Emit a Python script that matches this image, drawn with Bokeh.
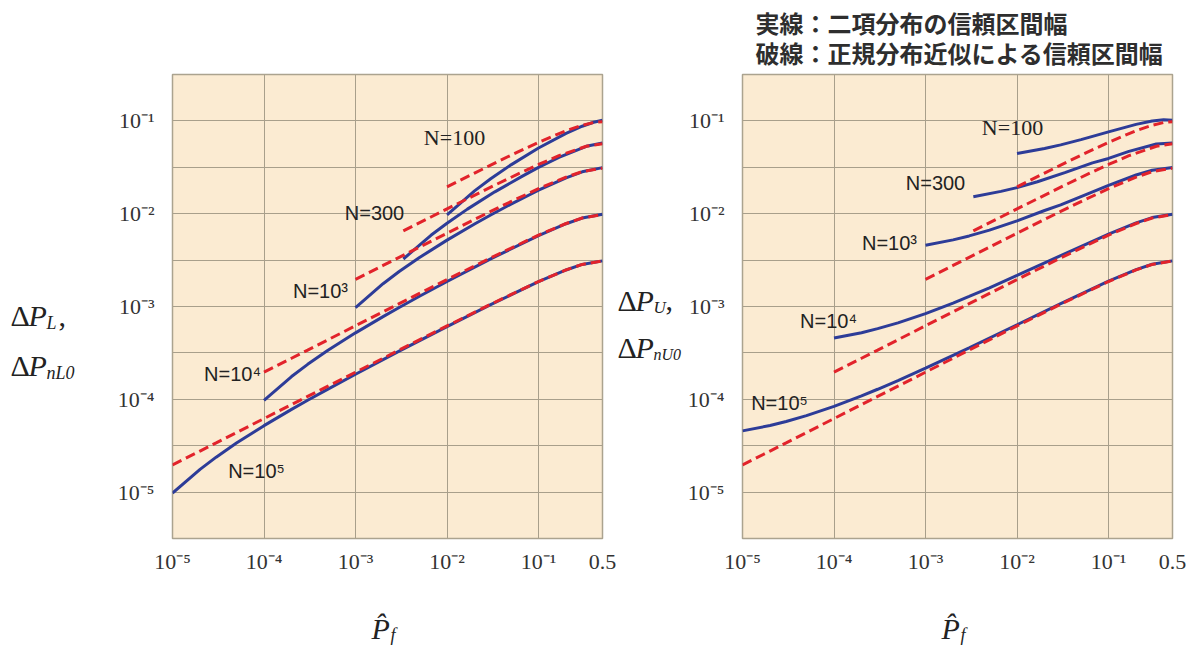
import math

from bokeh.plotting import figure
from bokeh.layouts import row, column
from bokeh.models import Range1d, FixedTicker, CustomJSTickFormatter, Label
from bokeh.embed import file_html
from bokeh.resources import INLINE

# ---------------------------------------------------------------------------
# Confidence-interval half widths versus the estimated failure probability Pf
# exact_lo / exact_up : binomial (exact) interval, lower and upper side
# normal             : normal-approximation interval (same on both sides)
# ---------------------------------------------------------------------------
pf_100 = [0.01, 0.02, 0.03, 0.05, 0.1, 0.2, 0.3, 0.4, 0.5]
normal_100 = [0.0195, 0.0274, 0.0334, 0.0427, 0.0588, 0.0784, 0.0898, 0.0960, 0.0980]
exact_lo_100 = [0.0097, 0.0176, 0.0238, 0.0336, 0.0510, 0.0733, 0.0876, 0.0967, 0.1017]
exact_up_100 = [0.0445, 0.0504, 0.0552, 0.0628, 0.0762, 0.0918, 0.0998, 0.1028, 0.1017]

pf_300 = [0.00333, 0.00667, 0.01, 0.0167, 0.0333, 0.0667, 0.1, 0.167, 0.333, 0.5]
normal_300 = [0.00652, 0.00921, 0.01126, 0.01449, 0.02031, 0.02823, 0.0339, 0.0422, 0.0533, 0.0566]
exact_lo_300 = [0.00325, 0.00585, 0.0079, 0.0112, 0.0172, 0.0254, 0.0316, 0.0405, 0.0532, 0.0579]
exact_up_300 = [0.0152, 0.0174, 0.0191, 0.0221, 0.0277, 0.0353, 0.0394, 0.0470, 0.0564, 0.0579]

pf_1000 = [0.001, 0.002, 0.003, 0.005, 0.01, 0.02, 0.03, 0.05, 0.1, 0.2, 0.3, 0.5]
normal_1000 = [0.00196, 0.00277, 0.00339, 0.00437, 0.00617, 0.00868, 0.01057, 0.01351,
               0.01859, 0.02479, 0.02840, 0.03099]
exact_lo_1000 = [0.000975, 0.00176, 0.00238, 0.00337, 0.00519, 0.00775, 0.00969, 0.01268,
                 0.0179, 0.02437, 0.02826, 0.03139]
exact_up_1000 = [0.00457, 0.00522, 0.00576, 0.00666, 0.00836, 0.01083, 0.01243, 0.0153,
                 0.02023, 0.02612, 0.02942, 0.03139]

pf_1e4 = [1e-4, 2e-4, 3e-4, 5e-4, 1e-3, 2e-3, 3e-3, 5e-3, 1e-2, 3e-2, 0.1, 0.2, 0.3, 0.5]
normal_1e4 = [1.96e-4, 2.77e-4, 3.39e-4, 4.38e-4, 6.20e-4, 8.76e-4, 1.072e-3, 1.382e-3,
              1.950e-3, 3.34e-3, 5.88e-3, 7.84e-3, 8.98e-3, 9.80e-3]
exact_lo_1e4 = [9.75e-5, 1.758e-4, 2.38e-4, 3.38e-4, 5.2e-4, 7.78e-4, 9.76e-4, 1.289e-3,
                1.86e-3, 3.26e-3, 5.81e-3, 7.80e-3, 8.97e-3, 9.84e-3]
exact_up_1e4 = [4.57e-4, 5.22e-4, 5.77e-4, 6.67e-4, 8.39e-4, 1.089e-3, 1.283e-3, 1.592e-3,
                2.16e-3, 3.53e-3, 6.04e-3, 7.97e-3, 9.08e-3, 9.84e-3]

pf_1e5 = [1e-5, 2e-5, 3e-5, 5e-5, 1e-4, 2e-4, 3e-4, 5e-4, 1e-3, 3e-3, 1e-2, 3e-2,
          0.1, 0.2, 0.3, 0.5]
normal_1e5 = [1.96e-5, 2.77e-5, 3.39e-5, 4.38e-5, 6.20e-5, 8.77e-5, 1.074e-4, 1.386e-4,
              1.959e-4, 3.39e-4, 6.17e-4, 1.057e-3, 1.859e-3, 2.479e-3, 2.840e-3, 3.099e-3]
exact_lo_1e5 = [9.75e-6, 1.758e-5, 2.38e-5, 3.38e-5, 5.2e-5, 7.78e-5, 9.76e-5, 1.289e-4,
                1.864e-4, 3.30e-4, 6.07e-4, 1.049e-3, 1.852e-3, 2.475e-3, 2.839e-3, 3.103e-3]
exact_up_1e5 = [4.57e-5, 5.22e-5, 5.77e-5, 6.67e-5, 8.39e-5, 1.089e-4, 1.283e-4, 1.592e-4,
                2.163e-4, 3.59e-4, 6.36e-4, 1.076e-3, 1.876e-3, 2.492e-3, 2.850e-3, 3.103e-3]

sample_labels = ["N=100", "N=300", "N=10³", "N=10⁴", "N=10⁵"]

x_ticks = [1e-5, 1e-4, 1e-3, 1e-2, 1e-1, 0.5]
x_tick_labels = ["10⁻⁵", "10⁻⁴", "10⁻³", "10⁻²", "10⁻¹", "0.5"]
y_ticks = [1e-5, 1e-4, 1e-3, 1e-2, 1e-1]
y_tick_labels = ["10⁻⁵", "10⁻⁴", "10⁻³", "10⁻²", "10⁻¹"]
y_half_decades = [10 ** (-k - 0.5) for k in range(1, 5)]

legend_lines = ["実線：二項分布の信頼区間幅", "破線：正規分布近似による信頼区間幅"]

# ---------------------------------------------------------------------------
# Page layout (pixels from the top-left corner of the page)
# ---------------------------------------------------------------------------
PAGE_W, PAGE_H = 1186, 646
FRAME_TOP, FRAME_BOTTOM = 74, 538
FRAME_W = 430
LEFT_FRAME_X, RIGHT_FRAME_X = 172, 742

TITLE_L_W = 98            # strip holding the left y title
PANEL_L_W = 518           # left chart
TITLE_M_W = 67            # strip holding the right y title
PANEL_L_X = TITLE_L_W
TITLE_M_X = PANEL_L_X + PANEL_L_W
PANEL_R_X = TITLE_M_X + TITLE_M_W
PANEL_R_W = PAGE_W - PANEL_R_X
TOP_H = 72
BOTTOM_H = 61
PANEL_H = PAGE_H - TOP_H - BOTTOM_H
BOTTOM_Y = TOP_H + PANEL_H

X_LO, X_HI = 1e-5, 0.5
Y_LO, Y_HI = 10 ** -5.5, 10 ** -0.5
XDEC = FRAME_W / (math.log10(X_HI) - math.log10(X_LO))
YDEC = (FRAME_BOTTOM - FRAME_TOP) / (math.log10(Y_HI) - math.log10(Y_LO))

BLUE = "#2d3c98"
RED = "#e2232b"
PLOT_BG = "#fbebd2"
GRID = "#a89f8b"
TEXT = "#222222"
SERIF = "Liberation Serif"
SANS = "Liberation Sans"


def px_x(px, frame_x):
    return 10 ** (math.log10(X_LO) + (px - frame_x) / XDEC)


def px_y(py):
    return 10 ** (math.log10(Y_HI) - (py - FRAME_TOP) / YDEC)


def tick_formatter(tick_vals, tick_text):
    return CustomJSTickFormatter(
        args=dict(tick_vals=tick_vals, tick_text=tick_text),
        code="""
        let best = 0, bd = Infinity;
        for (let i = 0; i < tick_vals.length; i++) {
            const d = Math.abs(Math.log(tick_vals[i]) - Math.log(tick));
            if (d < bd) { bd = d; best = i; }
        }
        return tick_text[best];
        """,
    )


def make_panel(x0, width, frame_x):
    border_left = frame_x - x0
    border_right = width - border_left - FRAME_W
    border_top = FRAME_TOP - TOP_H
    border_bottom = PANEL_H - border_top - (FRAME_BOTTOM - FRAME_TOP)
    p = figure(
        width=width, height=PANEL_H, title=None,
        x_axis_type="log", y_axis_type="log",
        x_range=Range1d(X_LO, X_HI), y_range=Range1d(Y_LO, Y_HI),
        output_backend="svg", toolbar_location=None,
        min_border_left=border_left, min_border_right=border_right,
        min_border_top=border_top, min_border_bottom=border_bottom,
    )
    p.background_fill_color = PLOT_BG
    p.border_fill_color = "white"
    p.outline_line_color = "#aba38f"
    p.outline_line_width = 1.5

    p.xaxis.ticker = FixedTicker(ticks=x_ticks)
    p.yaxis.ticker = FixedTicker(ticks=y_ticks, minor_ticks=y_half_decades)
    p.xaxis.formatter = tick_formatter(x_ticks, x_tick_labels)
    p.yaxis.formatter = tick_formatter(y_ticks, y_tick_labels)
    for ax in (p.xaxis, p.yaxis):
        ax.axis_line_color = None
        ax.major_tick_line_color = None
        ax.minor_tick_line_color = None
        ax.major_tick_out = 0
        ax.minor_tick_out = 0
        ax.major_label_text_font = SERIF
        ax.major_label_text_font_size = "22px"
        ax.major_label_text_color = "#333333"
    p.xaxis.major_label_standoff = 10
    p.yaxis.major_label_standoff = 18

    p.xgrid.grid_line_color = GRID
    p.xgrid.grid_line_width = 1
    p.ygrid.grid_line_color = GRID
    p.ygrid.grid_line_width = 1
    p.ygrid.minor_grid_line_color = GRID
    p.ygrid.minor_grid_line_width = 1
    return p


def make_strip(x0, width, y0, height, frame_left=None, frame_right=None):
    """White canvas whose data units are page pixels.

    When the strip sits in a column with a chart, its drawing area is given the
    same horizontal extent as that chart's frame so the two line up exactly."""
    fl = x0 if frame_left is None else frame_left
    fr = x0 + width if frame_right is None else frame_right
    s = figure(
        width=width, height=height, title=None,
        x_range=Range1d(fl, fr), y_range=Range1d(y0 + height, y0),
        x_axis_location=None, y_axis_location=None,
        output_backend="svg", toolbar_location=None,
        min_border_left=fl - x0, min_border_right=x0 + width - fr,
        min_border_top=0, min_border_bottom=0,
    )
    s.grid.visible = False
    s.outline_line_color = None
    s.background_fill_color = "white"
    s.border_fill_color = "white"
    return s


def label(target, x, y, text, font=SANS, size=20, style="normal",
          align="center", baseline="middle", color=TEXT):
    target.add_layout(Label(
        x=x, y=y, text=text,
        text_font=font, text_font_size=f"{size}px", text_font_style=style,
        text_align=align, text_baseline=baseline, text_color=color,
    ))


series = [
    (pf_100, normal_100, exact_lo_100, exact_up_100),
    (pf_300, normal_300, exact_lo_300, exact_up_300),
    (pf_1000, normal_1000, exact_lo_1000, exact_up_1000),
    (pf_1e4, normal_1e4, exact_lo_1e4, exact_up_1e4),
    (pf_1e5, normal_1e5, exact_lo_1e5, exact_up_1e5),
]

left = make_panel(PANEL_L_X, PANEL_L_W, LEFT_FRAME_X)
right = make_panel(PANEL_R_X, PANEL_R_W, RIGHT_FRAME_X)

# solid exact-interval curves first, dashed normal approximation on top
for pf, normal, lo, up in series:
    left.line(pf, lo, line_color=BLUE, line_width=3)
    right.line(pf, up, line_color=BLUE, line_width=3)
for pf, normal, lo, up in series:
    left.line(pf, normal, line_color=RED, line_width=3, line_dash="10 5")
    right.line(pf, normal, line_color=RED, line_width=3, line_dash="10 5")

# sample-size annotations (page pixel positions converted to data units)
left_pos = [(454, 137), (374, 212), (320, 290), (232, 373), (256, 470)]
right_pos = [(1012, 127), (935, 182), (889, 242), (828, 320), (779, 402)]
for i, lab in enumerate(sample_labels):
    font, size = (SERIF, 22) if i == 0 else (SANS, 20)
    lx, ly = left_pos[i]
    rx, ry = right_pos[i]
    label(left, px_x(lx, LEFT_FRAME_X), px_y(ly), lab, font=font, size=size)
    label(right, px_x(rx, RIGHT_FRAME_X), px_y(ry), lab, font=font, size=size)

# ---------------------------------------------------------------------------
# Surrounding strips: titles and the line-style key (coordinates = page pixels)
# ---------------------------------------------------------------------------
title_l = make_strip(0, TITLE_L_W, 0, PAGE_H)
title_m = make_strip(TITLE_M_X, TITLE_M_W, 0, PAGE_H)
top_l = make_strip(PANEL_L_X, PANEL_L_W, 0, TOP_H, LEFT_FRAME_X, LEFT_FRAME_X + FRAME_W)
top_r = make_strip(PANEL_R_X, PANEL_R_W, 0, TOP_H, RIGHT_FRAME_X, RIGHT_FRAME_X + FRAME_W)
bottom_l = make_strip(PANEL_L_X, PANEL_L_W, BOTTOM_Y, BOTTOM_H, LEFT_FRAME_X, LEFT_FRAME_X + FRAME_W)
bottom_r = make_strip(PANEL_R_X, PANEL_R_W, BOTTOM_Y, BOTTOM_H, RIGHT_FRAME_X, RIGHT_FRAME_X + FRAME_W)

for i, line in enumerate(legend_lines):
    label(top_r, 755, 22 + 30 * i, line, font="Noto Sans CJK JP",
          size=24, style="bold", align="left", color="#2e2e2e")


def delta_title(strip, x0, sub, tail, base_y, sub_size=18):
    label(strip, x0, base_y, "Δ", font=SERIF, size=30, align="left", baseline="alphabetic")
    label(strip, x0 + 18, base_y, "P", font=SERIF, size=30, style="italic",
          align="left", baseline="alphabetic")
    label(strip, x0 + 36, base_y + 7, sub, font=SERIF, size=sub_size, style="italic",
          align="left", baseline="alphabetic")
    if tail:
        label(strip, x0 + 37 + 11 * len(sub), base_y, tail, font=SERIF, size=30,
              align="left", baseline="alphabetic")


delta_title(title_l, 10, "L", " ,", 315)
delta_title(title_l, 10, "nL0", "", 365)
delta_title(title_m, 617, "U", ",", 300, sub_size=17)
delta_title(title_m, 617, "nU0", "", 347, sub_size=16)

for strip, frame_x in ((bottom_l, LEFT_FRAME_X), (bottom_r, RIGHT_FRAME_X)):
    cx = frame_x + FRAME_W / 2
    label(strip, cx - 16, 628, "P\u0302", font=SERIF, size=30, style="italic",
          align="left", baseline="alphabetic")
    label(strip, cx + 3, 634, "f", font=SERIF, size=18, style="italic",
          align="left", baseline="alphabetic")

layout = row(
    title_l,
    column(top_l, left, bottom_l),
    title_m,
    column(top_r, right, bottom_r),
)
open("out.html", "w").write(file_html(layout, INLINE))
